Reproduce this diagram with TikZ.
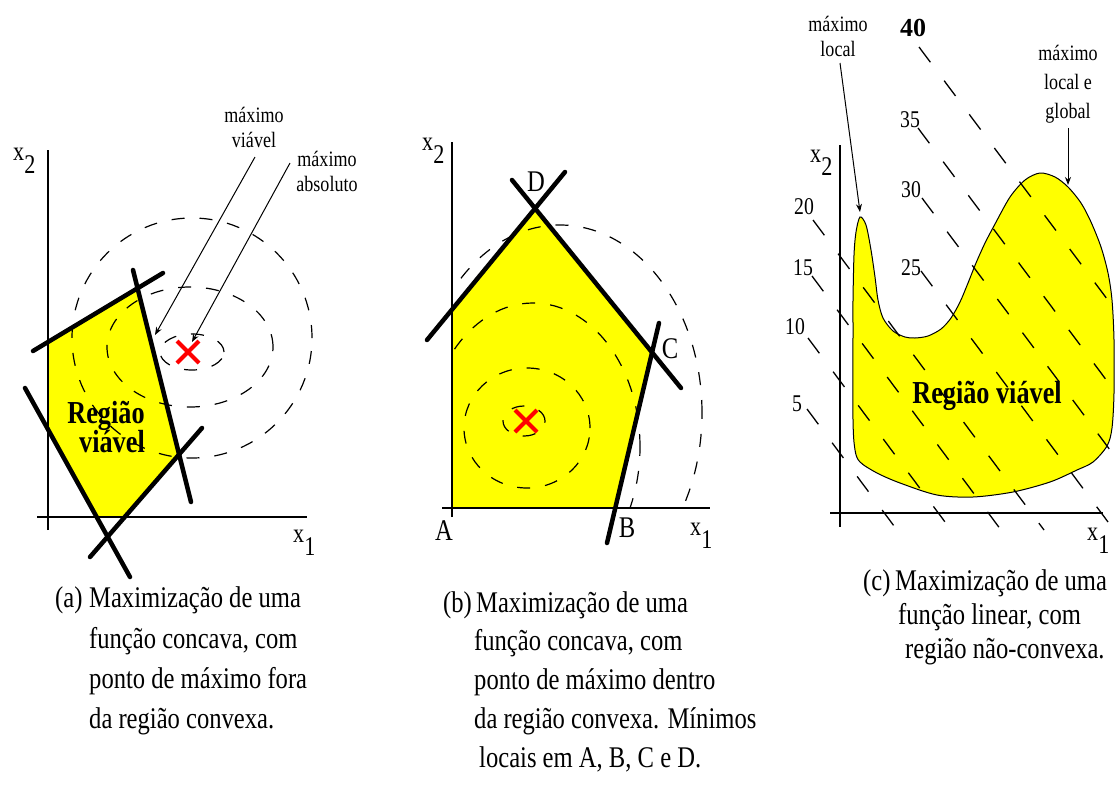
\documentclass[tikz,border=0pt]{standalone}
\usepackage{fontspec}
\setmainfont{Liberation Serif}
\newfontfamily\rf[FakeStretch=0.82]{Liberation Serif}
\usetikzlibrary{arrows.meta}
\definecolor{yel}{RGB}{255,255,0}
\definecolor{redx}{RGB}{255,0,0}
\tikzset{
  thickln/.style={line width=4.5pt, line cap=round},
  axisln/.style={line width=1.5pt},
  ringln/.style={line width=1.2pt, dash pattern=on 13pt off 15pt},
  levln/.style={line width=1.3pt, dash pattern=on 19pt off 23pt},
  redmark/.style={draw=redx, line width=4pt},
  annarrow/.style={line width=1pt, -{Stealth[length=8pt,width=6pt]}},
  capt/.style={font=\rf\fontsize{30}{40}\selectfont, inner sep=0pt, anchor=base west},
  ann/.style={font=\rf\fontsize{22}{25}\selectfont, align=center, inner sep=0pt},
  axl/.style={font=\rf\fontsize{27}{27}\selectfont, inner sep=0pt, anchor=base west},
  ptl/.style={font=\rf\fontsize{30}{30}\selectfont, inner sep=0pt},
  numl/.style={font=\rf\fontsize{24}{24}\selectfont, inner sep=0pt},
  regl/.style={font=\rf\bfseries\fontsize{32}{32}\selectfont, inner sep=0pt, anchor=base},
}
\begin{document}
\begin{tikzpicture}[x=1pt,y=-1pt]
\useasboundingbox[fill=white] (0,0) rectangle (1116,785);

% ================= Panel (a) =================
\coordinate (a1s) at (33,351); \coordinate (a1e) at (163,273);
\coordinate (a2s) at (133,270); \coordinate (a2e) at (191,502);
\coordinate (a3s) at (202,428); \coordinate (a3e) at (90,557);
\coordinate (a4s) at (25,388);  \coordinate (a4e) at (130,577);
\coordinate (ay0) at (48,530);  \coordinate (ay1) at (48,150);
\coordinate (ax0) at (37,517);  \coordinate (ax1) at (307,517);

\fill[yel] (intersection of a1s--a1e and ay0--ay1)
  -- (intersection of a1s--a1e and a2s--a2e)
  -- (intersection of a2s--a2e and a3s--a3e)
  -- (intersection of a3s--a3e and ax0--ax1)
  -- (intersection of a4s--a4e and ax0--ax1)
  -- (intersection of a4s--a4e and ay0--ay1) -- cycle;

\draw[ringln] (192,352) ellipse [x radius=32pt, y radius=18pt];
\draw[ringln] (190,347) ellipse [x radius=83pt, y radius=60pt];
\draw[ringln] (192,338) ellipse [x radius=120pt, y radius=120pt];

\draw[axisln] (ay0) -- (ay1);
\draw[axisln] (ax0) -- (ax1);

\draw[thickln] (a1s) -- (a1e);
\draw[thickln] (a2s) -- (a2e);
\draw[thickln] (a3s) -- (a3e);
\draw[thickln] (a4s) -- (a4e);

\draw[redmark] (177,341) -- (199,363);
\draw[redmark] (177,363) -- (199,341);

\node[regl] (rega1) at (106,423) {Região};
\node[regl] (rega2) at (112,452) {viável};

\node[axl] (ax2a) at (13,160) {x\raisebox{-13pt}{2}};
\node[axl] (ax1a) at (293,542) {x\raisebox{-13pt}{1}};

\node[ann] (mviavel) at (254,127) {máximo\\viável};
\node[ann] (mabs) at (327,171) {máximo\\absoluto};
\coordinate (mvs) at (255,157); \coordinate (mvt) at (155,335);
\coordinate (mas) at (290,163); \coordinate (mat) at (192,342);
\draw[annarrow] (mvs) -- (mvt);
\draw[annarrow] (mas) -- (mat);

\node[capt] (capa0) at (55,607) {(a)};
\node[capt] (capa1) at (89,607) {Maximização de uma};
\node[capt] (capa2) at (89,648) {função concava, com};
\node[capt] (capa3) at (89,688) {ponto de máximo fora};
\node[capt] (capa4) at (89,728) {da região convexa.};

% ================= Panel (b) =================
\coordinate (b1s) at (427,340); \coordinate (b1e) at (565,172);
\coordinate (b2s) at (512,180); \coordinate (b2e) at (681,388);
\coordinate (b3s) at (659,323); \coordinate (b3e) at (607,543);
\coordinate (by0) at (452,517); \coordinate (by1) at (452,142);
\coordinate (bx0) at (442,508); \coordinate (bx1) at (710,508);

\fill[yel] (452,508)
  -- (intersection of b1s--b1e and by0--by1)
  -- (intersection of b1s--b1e and b2s--b2e)
  -- (intersection of b2s--b2e and b3s--b3e)
  -- (intersection of b3s--b3e and bx0--bx1) -- cycle;

\begin{scope}
\clip (452,120) rectangle (730,508);
\draw[ringln] (524,421) ellipse [x radius=21pt, y radius=15pt];
\draw[ringln] (527,428) ellipse [x radius=63pt, y radius=60pt];
\draw[ringln] (533,447) ellipse [x radius=107pt, y radius=144pt];
\draw[ringln] (560,413) ellipse [x radius=142pt, y radius=188pt];
\end{scope}

\draw[axisln] (by0) -- (by1);
\draw[axisln] (bx0) -- (bx1);

\draw[thickln] (b1s) -- (b1e);
\draw[thickln] (b2s) -- (b2e);
\draw[thickln] (b3s) -- (b3e);

\draw[redmark] (515,410) -- (537,432);
\draw[redmark] (515,432) -- (537,410);

\node[ptl] (pA) at (444,531) {A};
\node[ptl] (pB) at (627,528) {B};
\node[ptl] (pC) at (670,349) {C};
\node[ptl] (pD) at (536,182) {D};

\node[axl] (ax2b) at (422,150) {x\raisebox{-13pt}{2}};
\node[axl] (ax1b) at (690,535) {x\raisebox{-13pt}{1}};

\node[capt] (capb0) at (443,612) {(b)};
\node[capt] (capb1) at (476,612) {Maximização de uma};
\node[capt] (capb2) at (474,650) {função concava, com};
\node[capt] (capb3) at (474,689) {ponto de máximo dentro};
\node[capt] (capb4) at (474,728) {da região convexa. Mínimos};
\node[capt] (capb5) at (479,767) {locais em A, B, C e D.};

% ================= Panel (c) =================
\draw[fill=yel, line width=1pt] plot[smooth cycle, tension=0.5] coordinates {
 (860,217) (866,225) (871,250) (875,277) (878,300) (883,318) (893,331)
 (905,337) (915,338) (928,336) (941,329) (951,318) (960,302) (968,283)
 (976,263) (985,243) (995,224) (1010,197) (1025,180) (1040,173) (1055,177)
 (1068,187) (1081,203) (1091,222) (1101,247) (1108,273) (1112,300)
 (1114,340) (1114,393) (1112,428) (1107,446) (1093,462) (1077,470)
 (1050,482) (1013,492) (973,497) (937,495) (900,483) (877,473) (860,462)
 (855,450) (853,420) (853,330) (853,300) (854,255) (856,232)};

\coordinate (l40s) at (919,47);  \coordinate (l40e) at (1116,311);
\coordinate (l35s) at (918,128); \coordinate (l35e) at (1116,393);
\coordinate (l30s) at (922,198); \coordinate (l30e) at (1116,458);
\coordinate (l25s) at (921,271); \coordinate (l25e) at (1114,530);
\coordinate (l20s) at (813,220); \coordinate (l20e) at (1044,530);
\coordinate (l15s) at (812,276); \coordinate (l15e) at (1001,530);
\coordinate (l10s) at (808,338); \coordinate (l10e) at (951,530);
\coordinate (l05s) at (807,409); \coordinate (l05e) at (897,530);
\foreach \k in {40,35,30,25,20,15,10,05}{
  \draw[levln] (l\k s) -- (l\k e);
}

\draw[axisln] (840,145) coordinate (cy1) -- (840,527) coordinate (cy0);
\draw[axisln] (830,513) coordinate (cx0) -- (1103,513) coordinate (cx1);

\node[font=\bfseries\fontsize{26}{26}\selectfont, inner sep=0pt] (n40) at (913,28) {40};
\node[numl] (n35) at (910,120) {35};
\node[numl] (n30) at (911,190) {30};
\node[numl] (n25) at (911,268) {25};
\node[numl] (n20) at (804,207) {20};
\node[numl] (n15) at (803,268) {15};
\node[numl] (n10) at (795,327) {10};
\node[numl] (n05) at (797,404) {5};

\node[regl] (regc) at (987,403) {Região viável};

\node[axl] (ax2c) at (810,162) {x\raisebox{-13pt}{2}};
\node[axl] (ax1c) at (1087,540) {x\raisebox{-13pt}{1}};

\node[ann] (mloc) at (838,36) {máximo\\local};
\node[ann, font=\rf\fontsize{22}{29}\selectfont] (mglob) at (1068,84) {máximo\\local e\\global};
\coordinate (mls) at (840,63);  \coordinate (mlt) at (860,212);
\coordinate (mgs) at (1068,128); \coordinate (mgt) at (1068,185);
\draw[annarrow] (mls) -- (mlt);
\draw[annarrow] (mgs) -- (mgt);

\node[capt] (capc0) at (863,590) {(c)};
\node[capt] (capc1) at (895,590) {Maximização de uma};
\node[capt] (capc2) at (898,624) {função linear, com};
\node[capt] (capc3) at (905,658) {região não-convexa.};
\end{tikzpicture}
\end{document}
